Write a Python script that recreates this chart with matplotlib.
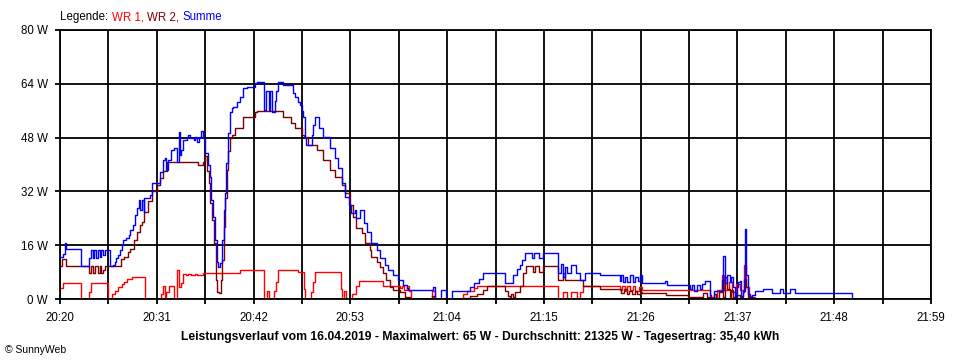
import matplotlib
matplotlib.use("Agg")
import matplotlib.pyplot as plt

plt.rcParams['font.family'] = ['Liberation Sans', 'DejaVu Sans']

# ---- data (minutes after 20:20, Watt) ----
wr1_t = [0.0, 0.3, 2.4, 3.3, 3.5, 5.5, 5.9, 6.2, 6.6, 7.0,
         7.3, 7.6, 8.2, 9.7, 11.5, 11.7, 11.9, 12.1, 12.4, 12.7,
         13.0, 13.3, 13.5, 13.7, 14.0, 14.3, 14.6, 14.9, 15.3, 15.6,
         16.2, 20.5, 23.2, 23.5, 23.7, 24.3, 24.5, 24.8, 27.0, 27.7,
         27.8, 28.5, 28.8, 29.0, 31.9, 32.0, 32.3, 32.5, 33.2, 33.6,
         34.0, 36.7, 38.6, 38.9, 39.1, 39.4, 39.7, 39.9, 42.3, 42.6,
         45.8, 46.3, 47.0, 47.4, 56.6, 57.2, 57.6, 58.1, 58.8, 59.1,
         59.5, 63.6, 63.9, 64.2, 64.5, 64.8, 65.1, 65.4, 65.8, 66.1,
         73.9, 74.3, 74.7, 75.3, 75.5, 76.0, 76.4, 76.8, 77.3, 77.8,
         78.0, 78.3, 78.6, 79.0]
wr1_w = [3.3, 4.8, 0.0, 2.0, 4.8, 0.0, 1.5, 2.5, 3.5, 4.5,
         5.2, 6.0, 6.5, 0.0, 1.5, 4.0, 0.5, 2.0, 3.8, 4.0,
         0.0, 8.6, 3.5, 4.8, 7.4, 7.1, 7.4, 7.1, 7.4, 7.1,
         7.7, 8.6, 0.0, 2.5, 0.0, 2.5, 5.0, 8.6, 8.0, 3.0,
         0.0, 2.0, 5.0, 8.0, 3.0, 0.0, 2.5, 0.0, 1.5, 4.0,
         5.4, 3.9, 3.3, 4.0, 2.7, 3.9, 2.5, 0.0, 2.5, 0.0,
         1.5, 2.5, 3.2, 3.9, 0.0, 2.0, 0.0, 2.0, 0.0, 2.0,
         3.9, 2.7, 3.9, 2.3, 3.9, 2.7, 3.9, 2.3, 3.5, 2.7,
         0.5, 0.0, 2.7, 7.1, 2.7, 5.0, 2.0, 4.5, 2.7, 10.0,
         3.5, 1.0, 0.5, 0.0]

wr2_t = [0.0, 0.2, 0.7, 3.3, 3.5, 3.8, 4.0, 4.3, 4.5, 4.7,
         4.9, 5.1, 6.9, 7.3, 7.7, 8.0, 8.4, 8.8, 9.1, 9.3,
         9.5, 10.0, 10.5, 11.0, 11.4, 11.7, 12.2, 15.7, 16.2, 16.5,
         16.7, 16.9, 17.1, 17.3, 17.5, 17.7, 17.9, 18.1, 18.3, 18.4,
         18.6, 18.8, 19.0, 19.1, 19.3, 19.5, 19.9, 20.8, 22.2, 22.4,
         25.4, 26.3, 26.7, 27.5, 27.7, 28.2, 29.2, 29.9, 30.7, 31.3,
         32.0, 32.4, 33.0, 33.3, 33.7, 34.3, 34.7, 35.2, 35.4, 36.0,
         36.4, 36.7, 37.1, 37.5, 37.9, 38.6, 39.2, 39.8, 42.3, 42.5,
         45.8, 46.6, 47.4, 48.1, 48.5, 50.6, 50.9, 51.1, 51.3, 51.5,
         51.7, 52.3, 52.6, 53.0, 53.8, 54.0, 54.5, 54.9, 56.6, 57.2,
         57.4, 59.5, 61.4, 63.8, 64.1, 64.4, 64.7, 65.0, 65.3, 65.6,
         66.0, 66.1, 68.9, 71.4, 73.1, 73.5, 73.9, 74.3, 74.6, 74.9,
         75.2, 75.4, 75.6, 75.8, 76.1, 76.3, 76.5, 76.9, 77.3, 77.65,
         77.8, 78.0, 78.2, 78.6]
wr2_w = [9.8, 11.9, 9.8, 7.7, 9.8, 7.7, 9.8, 7.7, 9.8, 7.7,
         8.5, 9.8, 11.9, 12.5, 14.0, 15.0, 17.5, 20.0, 22.0, 23.0,
         26.0, 29.0, 32.0, 34.0, 36.0, 38.0, 40.7, 40.0, 40.7, 42.5,
         38.0, 34.5, 28.5, 23.5, 16.6, 5.6, 2.0, 1.8, 5.6, 11.6,
         21.4, 30.0, 38.4, 44.0, 48.0, 48.8, 51.0, 54.0, 55.6, 56.0,
         54.0, 52.3, 51.0, 48.8, 48.2, 45.8, 44.3, 41.3, 38.4, 36.3,
         33.9, 31.5, 28.0, 24.4, 21.0, 19.6, 16.6, 14.6, 12.5, 11.0,
         9.5, 7.7, 5.6, 3.6, 2.7, 2.0, 0.6, 0.0, 1.0, 0.0,
         0.3, 1.0, 1.5, 2.7, 3.9, 2.5, 1.0, 0.6, 1.5, 0.6,
         2.0, 3.9, 7.7, 9.8, 8.0, 9.8, 8.0, 9.8, 5.6, 7.7,
         5.6, 3.9, 2.9, 1.9, 2.9, 1.5, 2.5, 1.5, 2.5, 1.5,
         2.2, 1.9, 1.2, 0.5, 1.9, 0.5, 0.0, 1.5, 0.0, 2.0,
         5.6, 0.5, 6.5, 3.0, 0.5, 2.7, 0.5, 1.2, 0.5, 2.0,
         6.0, 3.5, 0.5, 0.0]

sum_t = [0.0, 0.3, 0.55, 0.7, 2.4, 3.3, 3.5, 3.7, 3.9, 4.1,
         4.3, 4.5, 4.7, 4.9, 5.1, 5.7, 6.0, 6.2, 6.4, 6.6,
         6.8, 7.0, 7.2, 7.5, 7.8, 8.0, 8.3, 8.5, 8.8, 9.0,
         9.1, 9.3, 9.5, 9.6, 10.2, 10.5, 11.4, 11.7, 11.9, 12.1,
         12.3, 12.6, 13.0, 13.3, 13.5, 13.6, 13.8, 14.0, 14.4, 14.6,
         14.8, 15.2, 15.4, 15.6, 15.8, 16.0, 16.2, 16.5, 16.8, 17.0,
         17.2, 17.4, 17.6, 17.8, 18.0, 18.2, 18.4, 18.6, 18.75, 18.9,
         19.1, 19.3, 19.5, 19.7, 20.1, 20.5, 20.8, 21.2, 22.2, 22.4,
         23.2, 23.4, 23.7, 23.9, 24.1, 24.4, 24.6, 24.8, 25.4, 26.5,
         26.7, 27.1, 27.3, 27.5, 27.65, 27.8, 28.0, 28.6, 28.8, 29.0,
         29.4, 29.9, 30.7, 31.25, 31.6, 32.0, 32.4, 32.8, 33.1, 33.5,
         33.7, 34.1, 34.5, 34.85, 35.4, 36.0, 36.4, 36.9, 37.3, 37.9,
         38.45, 39.0, 39.4, 39.6, 42.4, 42.6, 43.3, 43.9, 44.5, 46.6,
         47.1, 47.6, 48.1, 50.6, 51.5, 51.9, 52.3, 52.5, 52.8, 53.6,
         53.9, 54.5, 54.9, 56.6, 57.0, 57.2, 57.4, 57.6, 58.1, 58.7,
         59.1, 59.7, 61.4, 63.6, 63.8, 64.0, 64.2, 64.5, 64.8, 65.1,
         65.4, 65.7, 65.9, 66.1, 68.75, 69.0, 71.6, 71.8, 72.1, 72.4,
         72.7, 73.0, 73.3, 73.9, 74.0, 74.3, 75.4, 75.6, 75.8, 76.1,
         76.3, 76.5, 76.7, 76.9, 77.1, 77.3, 77.46, 77.65, 77.84, 78.0,
         78.2, 78.4, 78.6, 79.0, 79.9, 80.9, 81.8, 82.2, 82.95, 83.5,
         90.0]
sum_w = [12.5, 13.5, 16.6, 14.9, 9.8, 12.2, 14.6, 12.2, 14.6, 12.2,
         14.6, 12.5, 14.6, 13.0, 14.6, 9.8, 10.0, 11.0, 12.2, 13.0,
         14.6, 16.0, 17.5, 18.0, 19.0, 20.5, 22.0, 25.0, 27.0, 29.4,
         26.5, 29.4, 26.0, 30.0, 31.0, 34.5, 37.8, 41.3, 42.0, 38.4,
         41.3, 44.3, 45.0, 40.7, 49.7, 42.8, 44.3, 47.3, 48.2, 48.8,
         47.9, 47.3, 48.2, 46.8, 48.2, 50.0, 47.9, 43.4, 40.0, 36.3,
         29.4, 24.4, 17.5, 11.0, 9.5, 10.7, 17.5, 26.5, 31.5, 40.4,
         49.4, 55.6, 56.8, 57.0, 58.6, 60.0, 62.8, 63.0, 64.2, 64.5,
         56.2, 62.0, 56.2, 61.8, 55.6, 59.0, 62.0, 64.5, 63.6, 61.2,
         60.0, 58.6, 57.7, 56.0, 54.0, 48.0, 45.8, 48.8, 51.7, 54.0,
         51.0, 48.2, 45.0, 42.0, 39.0, 34.5, 30.3, 28.0, 25.6, 26.5,
         24.0, 26.5, 22.6, 20.0, 16.6, 14.6, 12.2, 10.0, 8.6, 7.1,
         5.6, 4.2, 3.3, 2.7, 3.6, 0.0, 2.7, 0.0, 2.5, 3.7,
         4.7, 6.0, 7.7, 4.8, 7.0, 9.0, 10.0, 11.6, 13.7, 12.2,
         13.7, 12.2, 13.7, 7.7, 10.5, 6.6, 9.5, 7.7, 10.0, 7.7,
         5.6, 7.7, 7.1, 5.5, 7.1, 5.0, 6.6, 5.0, 7.1, 5.2,
         6.6, 5.5, 7.1, 4.8, 5.5, 4.2, 3.0, 4.2, 2.5, 4.2,
         3.0, 4.5, 5.5, 1.2, 0.0, 2.5, 12.8, 4.8, 7.0, 5.0,
         6.5, 3.6, 0.8, 3.6, 5.0, 5.5, 0.8, 2.5, 20.8, 7.0,
         1.5, 0.0, 1.2, 2.5, 2.9, 1.9, 2.9, 1.9, 2.9, 1.9,
         0.0]

x_labels = ['20:20', '20:31', '20:42', '20:53', '21:04',
            '21:15', '21:26', '21:37', '21:48', '21:59']
y_values = [0, 16, 32, 48, 64, 80]
legend_names = ["WR 1,", "WR 2,", "Summe"]
title = ("Leistungsverlauf vom 16.04.2019 - Maximalwert: 65 W - "
         "Durchschnitt: 21325 W - Tagesertrag: 35,40 kWh")

assert len(wr1_t) == len(wr1_w)
assert len(wr2_t) == len(wr2_w)
assert len(sum_t) == len(sum_w)

# ---- figure ----
W, H = 960, 360
fig = plt.figure(figsize=(W / 100, H / 100), dpi=100)
fig.patch.set_facecolor('white')
ax = fig.add_axes([60 / W, 61 / H, 871 / W, 269 / H])

colors = ['#ff0000', '#800000', '#0000ff']
for (tt, ww), col in zip([(wr1_t, wr1_w), (wr2_t, wr2_w), (sum_t, sum_w)], colors):
    ax.plot(tt, ww, color=col, lw=1.0, drawstyle='steps-post', zorder=3)

ax.set_xlim(0, 99)
ax.set_ylim(0, 80)

major = [11 * i for i in range(len(x_labels))]
minor = [11 * i + 5.5 for i in range(len(x_labels) - 1)]
ax.set_xticks(major)
ax.set_xticklabels(x_labels)
ax.set_xticks(minor, minor=True)
ax.set_yticks(y_values)
ax.set_yticklabels([f"{v} W" for v in y_values])

ax.set_axisbelow(True)
ax.grid(True, which='both', axis='x', color='black', lw=1.3)
ax.grid(True, which='major', axis='y', color='black', lw=1.3)
ax.tick_params(axis='both', which='both', direction='out', length=3.6,
               width=1.3, color='black', labelsize=8.3, labelcolor='black')
ax.tick_params(axis='x', which='major', pad=6)
ax.tick_params(axis='y', which='major', pad=5)
for s in ax.spines.values():
    s.set_color('black')
    s.set_linewidth(1.3)
    s.set_zorder(4)

# legend line at top, laid out piece by piece
fig.canvas.draw()
renderer = fig.canvas.get_renderer()
xpix = 60.0
for txt, col in zip(["Legende:"] + legend_names, ['black'] + colors):
    t = fig.text(xpix / W, 1 - 17 / H, txt, color=col, fontsize=8.3,
                 ha='left', va='center')
    bb = t.get_window_extent(renderer)
    xpix = bb.x1 + 3.5

fig.text(480 / W, 1 - 337 / H, title, ha='center', va='center',
         fontsize=8.7, fontweight='bold')
fig.text(5 / W, 1 - 350 / H, "© SunnyWeb", ha='left', va='center',
         fontsize=7.5)

fig.savefig("out.png", dpi=100, facecolor='white')
